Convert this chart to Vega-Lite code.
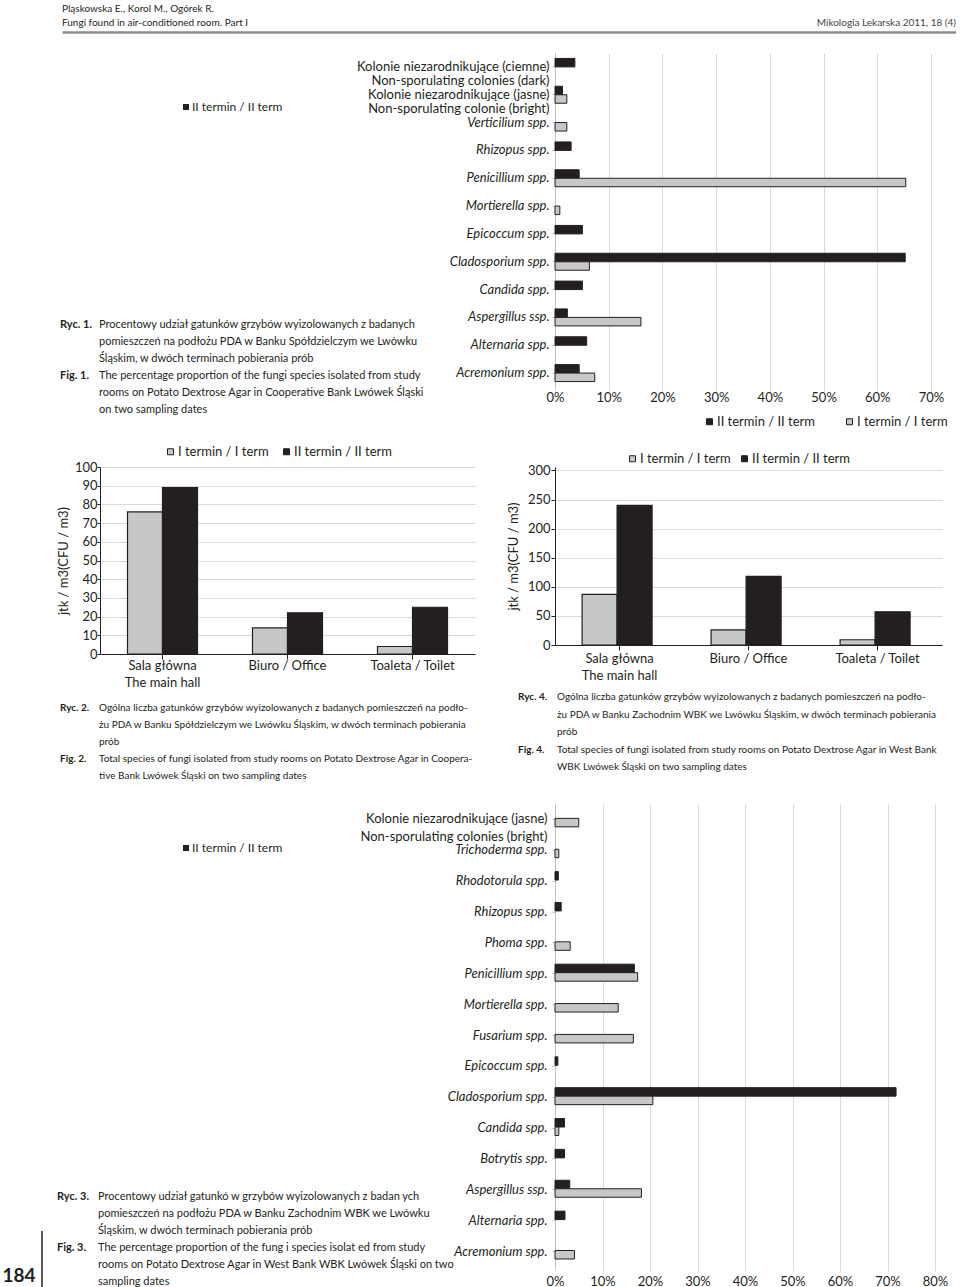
{
 "$schema": "https://vega.github.io/schema/vega-lite/v6.json",
 "padding": 0,
 "background": "white",
 "columns": 4,
 "spacing": 0,
 "bounds": "flush",
 "align": {"row": "each", "column": "none"},
 "resolve": {"scale": {"color": "independent"}, "legend": {"color": "independent"}},
 "config": {
  "view": {"stroke": null},
  "font": "Lato",
  "axis": {"labelColor": "#231f20", "titleColor": "#231f20", "labelFontSize": 13, "titleFontSize": 13, "titleFontWeight": "normal"},
  "legend": {"labelColor": "#231f20", "labelFontSize": 13},
  "text": {"color": "#231f20"}
 },
 "concat": [
  {
   "width": 100, "height": 29,
   "layer": [
    {
     "data": {"values": [
      {"side": "left", "line": "1", "text": "Pląskowska E., Korol M., Ogórek R."},
      {"side": "left", "line": "2", "text": "Fungi found in air-conditioned room. Part I"}
     ]},
     "mark": {"type": "text", "align": "left", "baseline": "middle", "fontSize": 10},
     "encoding": {
      "x": {"field": "side", "type": "nominal", "scale": {"type": "point", "padding": 0, "domain": ["left", "right"], "range": [62, 956]}, "axis": {"orient": "bottom", "title": null, "labels": false, "ticks": false, "grid": false, "domain": true, "domainColor": "#8c8c8c", "domainWidth": 2.5}},
      "y": {"field": "line", "type": "ordinal", "scale": {"type": "point", "padding": 0, "domain": ["1", "2"], "range": [6, 20]}, "axis": null},
      "text": {"field": "text"}
     }
    },
    {
     "data": {"values": [
      {"side": "right", "line": "2", "text": "Mikologia Lekarska 2011, 18 (4)"}
     ]},
     "mark": {"type": "text", "align": "right", "baseline": "middle", "fontSize": 10, "color": "#444444"},
     "encoding": {
      "x": {"field": "side", "type": "nominal", "scale": {"type": "point", "padding": 0, "domain": ["left", "right"], "range": [62, 956]}},
      "y": {"field": "line", "type": "ordinal", "scale": {"type": "point", "padding": 0, "domain": ["1", "2"], "range": [6, 20]}, "axis": null},
      "text": {"field": "text"}
     }
    }
   ]
  },
  {"width": 1, "height": 50, "data": {"values": [{"a": 1}]}, "mark": {"type": "point", "opacity": 0}},
  {"width": 1, "height": 1, "data": {"values": [{"a": 1}]}, "mark": {"type": "point", "opacity": 0}},
  {"width": 1, "height": 1, "data": {"values": [{"a": 1}]}, "mark": {"type": "point", "opacity": 0}},

  {
   "width": 100, "height": 414,
   "layer": [
    {
     "data": {"values": [{"part": "symbol", "row": "legend"}]},
     "mark": {"type": "point", "shape": "square", "filled": true, "size": 36, "color": "#231f20", "opacity": 1},
     "encoding": {
      "x": {"field": "part", "type": "nominal", "scale": {"type": "point", "padding": 0, "domain": ["symbol", "label"], "range": [186, 192]}, "axis": null},
      "y": {"field": "row", "type": "nominal", "scale": {"type": "point", "padding": 0, "domain": ["legend", "pad"], "range": [54, 70]}, "axis": null}
     }
    },
    {
     "data": {"values": [{"part": "label", "row": "legend", "text": "II termin / II term"}]},
     "mark": {"type": "text", "align": "left", "baseline": "middle", "fontSize": 12},
     "encoding": {
      "x": {"field": "part", "type": "nominal", "scale": {"type": "point", "padding": 0, "domain": ["symbol", "label"], "range": [186, 192]}, "axis": null},
      "y": {"field": "row", "type": "nominal", "scale": {"type": "point", "padding": 0, "domain": ["legend", "pad"], "range": [54, 70]}, "axis": null},
      "text": {"field": "text"}
     }
    },
    {
     "data": {"values": [
      {"line": 1, "part": "label", "text": "Ryc. 1."},
      {"line": 4, "part": "label", "text": "Fig. 1."}
     ]},
     "mark": {"type": "text", "align": "left", "baseline": "middle", "fontWeight": "bold", "fontSize": 11},
     "encoding": {
      "x": {"field": "part", "type": "nominal", "scale": {"type": "point", "padding": 0, "domain": ["label", "body"], "range": [60, 99]}, "axis": null},
      "y": {"field": "line", "type": "ordinal", "scale": {"type": "point", "padding": 0, "domain": [1, 2, 3, 4, 5, 6], "range": [272, 357]}, "axis": null},
      "text": {"field": "text"}
     }
    },
    {
     "data": {"values": [
      {"line": 1, "part": "body", "text": "Procentowy udział gatunków grzybów wyizolowanych z badanych"},
      {"line": 2, "part": "body", "text": "pomieszczeń na podłożu PDA w Banku Spółdzielczym we Lwówku"},
      {"line": 3, "part": "body", "text": "Śląskim, w dwóch terminach pobierania prób"},
      {"line": 4, "part": "body", "text": "The percentage proportion of the fungi species isolated from study"},
      {"line": 5, "part": "body", "text": "rooms on Potato Dextrose Agar in Cooperative Bank Lwówek Śląski"},
      {"line": 6, "part": "body", "text": "on two sampling dates"}
     ]},
     "mark": {"type": "text", "align": "left", "baseline": "middle", "fontSize": 11},
     "encoding": {
      "x": {"field": "part", "type": "nominal", "scale": {"type": "point", "padding": 0, "domain": ["label", "body"], "range": [60, 99]}, "axis": null},
      "y": {"field": "line", "type": "ordinal", "scale": {"type": "point", "padding": 0, "domain": [1, 2, 3, 4, 5, 6], "range": [272, 357]}, "axis": null},
      "text": {"field": "text"}
     }
    }
   ],
   "resolve": {"scale": {"x": "independent", "y": "independent"}}
  },
  {"width": 1, "height": 1, "data": {"values": [{"a": 1}]}, "mark": {"type": "point", "opacity": 0}},
  {"width": 1, "height": 1, "data": {"values": [{"a": 1}]}, "mark": {"type": "point", "opacity": 0}},
  {
   "width": 376, "height": 334,
   "data": {"values": [
    {"species": "Kolonie niezarodnikujące (ciemne)|Non-sporulating colonies (dark)", "term": "II termin / II term", "pct": 3.7},
    {"species": "Kolonie niezarodnikujące (jasne)|Non-sporulating colonie (bright)", "term": "II termin / II term", "pct": 1.4},
    {"species": "Kolonie niezarodnikujące (jasne)|Non-sporulating colonie (bright)", "term": "I termin / I term", "pct": 2.2},
    {"species": "Verticilium spp.", "term": "I termin / I term", "pct": 2.2},
    {"species": "Rhizopus spp.", "term": "II termin / II term", "pct": 3.0},
    {"species": "Penicillium spp.", "term": "II termin / II term", "pct": 4.5},
    {"species": "Penicillium spp.", "term": "I termin / I term", "pct": 65.3},
    {"species": "Mortierella spp.", "term": "I termin / I term", "pct": 0.9},
    {"species": "Epicoccum spp.", "term": "II termin / II term", "pct": 5.1},
    {"species": "Cladosporium spp.", "term": "II termin / II term", "pct": 65.2},
    {"species": "Cladosporium spp.", "term": "I termin / I term", "pct": 6.4},
    {"species": "Candida spp.", "term": "II termin / II term", "pct": 5.1},
    {"species": "Aspergillus ssp.", "term": "II termin / II term", "pct": 2.3},
    {"species": "Aspergillus ssp.", "term": "I termin / I term", "pct": 16.0},
    {"species": "Alternaria spp.", "term": "II termin / II term", "pct": 5.9},
    {"species": "Acremonium spp.", "term": "II termin / II term", "pct": 4.5},
    {"species": "Acremonium spp.", "term": "I termin / I term", "pct": 7.4}
   ]},
   "mark": {"type": "bar", "stroke": "#231f20", "strokeWidth": 1},
   "encoding": {
    "y": {"field": "species", "type": "nominal",
      "sort": ["Kolonie niezarodnikujące (ciemne)|Non-sporulating colonies (dark)", "Kolonie niezarodnikujące (jasne)|Non-sporulating colonie (bright)", "Verticilium spp.", "Rhizopus spp.", "Penicillium spp.", "Mortierella spp.", "Epicoccum spp.", "Cladosporium spp.", "Candida spp.", "Aspergillus ssp.", "Alternaria spp.", "Acremonium spp."],
      "scale": {"paddingInner": 0.39, "paddingOuter": 0.195},
      "axis": {"title": null, "labelExpr": "split(datum.value, '|')",
        "labelFontStyle": {"condition": {"test": "indexof(datum.value, '|') >= 0", "value": "normal"}, "value": "italic"},
        "labelFontSize": 13, "labelLineHeight": 14.5, "labelPadding": 3, "labelLimit": 400, "labelOverlap": false,
        "domain": true, "domainColor": "#bfbfbf", "ticks": true, "tickColor": "#bfbfbf", "tickSize": 3, "grid": false}},
    "yOffset": {"field": "term", "type": "nominal", "sort": ["II termin / II term", "I termin / I term"]},
    "x": {"field": "pct", "type": "quantitative", "scale": {"domain": [0, 70], "nice": false},
      "axis": {"title": null, "values": [0, 10, 20, 30, 40, 50, 60, 70], "labelExpr": "datum.value + '%'", "grid": true, "gridColor": "#d9d9d9", "domain": false, "ticks": true, "tickColor": "#d9d9d9", "tickSize": 4, "labelPadding": 0, "labelFlush": false}},
    "color": {"field": "term", "type": "nominal", "scale": {"domain": ["II termin / II term", "I termin / I term"], "range": ["#231f20", "#c6c7c9"]},
      "legend": {"title": null, "orient": "none", "legendX": 148, "legendY": 362, "direction": "horizontal", "symbolType": "square", "symbolSize": 36, "symbolStrokeColor": "#231f20", "symbolStrokeWidth": 1, "columnPadding": 28, "labelOffset": 1}}
   }
  },

  {"width": 100, "height": 231, "data": {"values": [{"a": 1}]}, "mark": {"type": "point", "opacity": 0}},
  {
   "width": 375, "height": 187,
   "data": {"values": [
    {"room": "Sala główna|The main hall", "term": "I termin / I term", "cfu": 76},
    {"room": "Sala główna|The main hall", "term": "II termin / II term", "cfu": 89},
    {"room": "Biuro / Office", "term": "I termin / I term", "cfu": 14},
    {"room": "Biuro / Office", "term": "II termin / II term", "cfu": 22},
    {"room": "Toaleta / Toilet", "term": "I termin / I term", "cfu": 4},
    {"room": "Toaleta / Toilet", "term": "II termin / II term", "cfu": 25}
   ]},
   "mark": {"type": "bar", "stroke": "#231f20", "strokeWidth": 1.2},
   "encoding": {
    "x": {"field": "room", "type": "nominal", "sort": ["Sala główna|The main hall", "Biuro / Office", "Toaleta / Toilet"], "scale": {"paddingInner": 0.44, "paddingOuter": 0.22},
      "axis": {"title": null, "labelAngle": 0, "labelExpr": "split(datum.value, '|')", "labelBaseline": "top", "labelLineHeight": 17, "domain": true, "domainColor": "#231f20", "ticks": true, "tickColor": "#231f20", "tickSize": 5, "labelPadding": 0, "labelLimit": 300}},
    "xOffset": {"field": "term", "type": "nominal", "sort": ["I termin / I term", "II termin / II term"]},
    "y": {"field": "cfu", "type": "quantitative", "scale": {"domain": [0, 100], "nice": false},
      "axis": {"title": "jtk / m3(CFU / m3)", "values": [0, 10, 20, 30, 40, 50, 60, 70, 80, 90, 100], "grid": true, "gridColor": "#d9d9d9", "domain": true, "domainColor": "#231f20", "ticks": true, "tickColor": "#231f20", "tickSize": 3, "labelPadding": 0, "titlePadding": 4}},
    "color": {"field": "term", "type": "nominal", "scale": {"domain": ["I termin / I term", "II termin / II term"], "range": ["#c6c7c9", "#231f20"]},
      "legend": {"title": null, "orient": "none", "legendX": 64, "legendY": -22, "direction": "horizontal", "symbolType": "square", "symbolSize": 36, "symbolStrokeColor": "#231f20", "symbolStrokeWidth": 1, "columnPadding": 11, "labelOffset": 1}}
   }
  },
  {"width": 80, "height": 1, "data": {"values": [{"a": 1}]}, "mark": {"type": "point", "opacity": 0}},
  {
   "width": 387, "height": 178,
   "data": {"values": [
    {"room": "Sala główna|The main hall", "term": "I termin / I term", "cfu": 87},
    {"room": "Sala główna|The main hall", "term": "II termin / II term", "cfu": 240},
    {"room": "Biuro / Office", "term": "I termin / I term", "cfu": 26},
    {"room": "Biuro / Office", "term": "II termin / II term", "cfu": 118},
    {"room": "Toaleta / Toilet", "term": "I termin / I term", "cfu": 9},
    {"room": "Toaleta / Toilet", "term": "II termin / II term", "cfu": 57}
   ]},
   "mark": {"type": "bar", "stroke": "#231f20", "strokeWidth": 1.2},
   "encoding": {
    "x": {"field": "room", "type": "nominal", "sort": ["Sala główna|The main hall", "Biuro / Office", "Toaleta / Toilet"], "scale": {"paddingInner": 0.42, "paddingOuter": 0.21},
      "axis": {"title": null, "labelAngle": 0, "labelExpr": "split(datum.value, '|')", "labelBaseline": "top", "labelLineHeight": 17, "domain": true, "domainColor": "#231f20", "ticks": true, "tickColor": "#231f20", "tickSize": 5, "labelPadding": 2, "labelLimit": 300}},
    "xOffset": {"field": "term", "type": "nominal", "sort": ["I termin / I term", "II termin / II term"]},
    "y": {"field": "cfu", "type": "quantitative", "scale": {"domain": [0, 306], "nice": false},
      "axis": {"title": "jtk / m3(CFU / m3)", "values": [0, 50, 100, 150, 200, 250, 300], "grid": true, "gridColor": "#d9d9d9", "domain": true, "domainColor": "#231f20", "ticks": true, "tickColor": "#231f20", "tickSize": 4, "labelPadding": 1, "titlePadding": 7}},
    "color": {"field": "term", "type": "nominal", "scale": {"domain": ["I termin / I term", "II termin / II term"], "range": ["#c6c7c9", "#231f20"]},
      "legend": {"title": null, "orient": "none", "legendX": 71, "legendY": -15, "direction": "horizontal", "symbolType": "square", "symbolSize": 36, "symbolStrokeColor": "#231f20", "symbolStrokeWidth": 1, "columnPadding": 7, "labelOffset": 1}}
   }
  },

  {
   "width": 100, "height": 106,
   "layer": [
    {
     "data": {"values": [
      {"line": 1, "part": "label", "text": "Ryc. 2."},
      {"line": 4, "part": "label", "text": "Fig. 2."}
     ]},
     "mark": {"type": "text", "align": "left", "baseline": "middle", "fontWeight": "bold", "fontSize": 10},
     "encoding": {
      "x": {"field": "part", "type": "nominal", "scale": {"type": "point", "padding": 0, "domain": ["label", "body"], "range": [60, 99]}, "axis": null},
      "y": {"field": "line", "type": "ordinal", "scale": {"type": "point", "padding": 0, "domain": [1, 2, 3, 4, 5], "range": [10, 78]}, "axis": null},
      "text": {"field": "text"}
     }
    },
    {
     "data": {"values": [
      {"line": 1, "part": "body", "text": "Ogólna liczba gatunków grzybów wyizolowanych z badanych pomieszczeń na podło-"},
      {"line": 2, "part": "body", "text": "żu PDA w Banku Spółdzielczym we Lwówku Śląskim, w dwóch terminach pobierania"},
      {"line": 3, "part": "body", "text": "prób"},
      {"line": 4, "part": "body", "text": "Total species of fungi isolated from study rooms on Potato Dextrose Agar in Coopera-"},
      {"line": 5, "part": "body", "text": "tive Bank Lwówek Śląski on two sampling dates"}
     ]},
     "mark": {"type": "text", "align": "left", "baseline": "middle", "fontSize": 10},
     "encoding": {
      "x": {"field": "part", "type": "nominal", "scale": {"type": "point", "padding": 0, "domain": ["label", "body"], "range": [60, 99]}, "axis": null},
      "y": {"field": "line", "type": "ordinal", "scale": {"type": "point", "padding": 0, "domain": [1, 2, 3, 4, 5], "range": [10, 78]}, "axis": null},
      "text": {"field": "text"}
     }
    }
   ]
  },
  {
   "width": 20, "height": 106,
   "layer": [
    {
     "data": {"values": [
      {"line": 1, "part": "label", "text": "Ryc. 4."},
      {"line": 4, "part": "label", "text": "Fig. 4."}
     ]},
     "mark": {"type": "text", "align": "left", "baseline": "middle", "fontWeight": "bold", "fontSize": 10},
     "encoding": {
      "x": {"field": "part", "type": "nominal", "scale": {"type": "point", "padding": 0, "domain": ["label", "body"], "range": [418, 457]}, "axis": null},
      "y": {"field": "line", "type": "ordinal", "scale": {"type": "point", "padding": 0, "domain": [1, 2, 3, 4, 5], "range": [-1, 69]}, "axis": null},
      "text": {"field": "text"}
     }
    },
    {
     "data": {"values": [
      {"line": 1, "part": "body", "text": "Ogólna liczba gatunków grzybów wyizolowanych z badanych pomieszczeń na podło-"},
      {"line": 2, "part": "body", "text": "żu PDA w Banku Zachodnim WBK we Lwówku Śląskim, w dwóch terminach pobierania"},
      {"line": 3, "part": "body", "text": "prób"},
      {"line": 4, "part": "body", "text": "Total species of fungi isolated from study rooms on Potato Dextrose Agar in West Bank"},
      {"line": 5, "part": "body", "text": "WBK Lwówek Śląski on two sampling dates"}
     ]},
     "mark": {"type": "text", "align": "left", "baseline": "middle", "fontSize": 10},
     "encoding": {
      "x": {"field": "part", "type": "nominal", "scale": {"type": "point", "padding": 0, "domain": ["label", "body"], "range": [418, 457]}, "axis": null},
      "y": {"field": "line", "type": "ordinal", "scale": {"type": "point", "padding": 0, "domain": [1, 2, 3, 4, 5], "range": [-1, 69]}, "axis": null},
      "text": {"field": "text"}
     }
    }
   ]
  },
  {"width": 1, "height": 1, "data": {"values": [{"a": 1}]}, "mark": {"type": "point", "opacity": 0}},
  {"width": 1, "height": 1, "data": {"values": [{"a": 1}]}, "mark": {"type": "point", "opacity": 0}},

  {
   "width": 100, "height": 486,
   "layer": [
    {
     "data": {"values": [{"part": "symbol", "row": "legend"}]},
     "mark": {"type": "point", "shape": "square", "filled": true, "size": 36, "color": "#231f20", "opacity": 1},
     "encoding": {
      "x": {"field": "part", "type": "nominal", "scale": {"type": "point", "padding": 0, "domain": ["symbol", "label"], "range": [186, 192]}, "axis": null},
      "y": {"field": "row", "type": "nominal", "scale": {"type": "point", "padding": 0, "domain": ["legend", "pad"], "range": [44, 60]}, "axis": null}
     }
    },
    {
     "data": {"values": [{"part": "label", "row": "legend", "text": "II termin / II term"}]},
     "mark": {"type": "text", "align": "left", "baseline": "middle", "fontSize": 12},
     "encoding": {
      "x": {"field": "part", "type": "nominal", "scale": {"type": "point", "padding": 0, "domain": ["symbol", "label"], "range": [186, 192]}, "axis": null},
      "y": {"field": "row", "type": "nominal", "scale": {"type": "point", "padding": 0, "domain": ["legend", "pad"], "range": [44, 60]}, "axis": null},
      "text": {"field": "text"}
     }
    },
    {
     "data": {"values": [
      {"line": 1, "part": "label", "text": "Ryc. 3."},
      {"line": 4, "part": "label", "text": "Fig. 3."}
     ]},
     "mark": {"type": "text", "align": "left", "baseline": "middle", "fontWeight": "bold", "fontSize": 11},
     "encoding": {
      "x": {"field": "part", "type": "nominal", "scale": {"type": "point", "padding": 0, "domain": ["label", "body"], "range": [57, 98]}, "axis": null},
      "y": {"field": "line", "type": "ordinal", "scale": {"type": "point", "padding": 0, "domain": [1, 2, 3, 4, 5, 6], "range": [393, 478]}, "axis": null},
      "text": {"field": "text"}
     }
    },
    {
     "data": {"values": [
      {"line": 1, "part": "body", "text": "Procentowy udział gatunkó w grzybów wyizolowanych z badan ych"},
      {"line": 2, "part": "body", "text": "pomieszczeń na podłożu PDA w Banku Zachodnim  WBK we Lwówku"},
      {"line": 3, "part": "body", "text": "Śląskim, w dwóch terminach pobierania prób"},
      {"line": 4, "part": "body", "text": "The percentage proportion of the fung i species isolat ed from study"},
      {"line": 5, "part": "body", "text": "rooms on Potato Dextrose Agar in West Bank WBK Lwówek Śląski on two"},
      {"line": 6, "part": "body", "text": "sampling dates"}
     ]},
     "mark": {"type": "text", "align": "left", "baseline": "middle", "fontSize": 11},
     "encoding": {
      "x": {"field": "part", "type": "nominal", "scale": {"type": "point", "padding": 0, "domain": ["label", "body"], "range": [57, 98]}, "axis": null},
      "y": {"field": "line", "type": "ordinal", "scale": {"type": "point", "padding": 0, "domain": [1, 2, 3, 4, 5, 6], "range": [393, 478]}, "axis": null},
      "text": {"field": "text"}
     }
    },
    {
     "data": {"values": [{"slot": "number", "row": "page", "text": "184"}]},
     "mark": {"type": "text", "align": "center", "baseline": "middle", "fontWeight": "bold", "fontSize": 19},
     "encoding": {
      "x": {"field": "slot", "type": "nominal", "scale": {"type": "point", "padding": 0, "domain": ["number", "rule"], "range": [19, 42]}, "axis": null},
      "y": {"field": "row", "type": "nominal", "scale": {"type": "point", "padding": 0, "domain": ["page", "pad"], "range": [472, 490]}, "axis": null},
      "text": {"field": "text"}
     }
    },
    {
     "data": {"values": [{"slot": "rule", "end": "top"}, {"slot": "rule", "end": "bottom"}]},
     "mark": {"type": "line", "color": "#231f20", "strokeWidth": 1.5},
     "encoding": {
      "x": {"field": "slot", "type": "nominal", "scale": {"type": "point", "padding": 0, "domain": ["number", "rule"], "range": [19, 42]}, "axis": null},
      "y": {"field": "end", "type": "nominal", "scale": {"type": "point", "padding": 0, "domain": ["top", "bottom"], "range": [427, 486]}, "axis": null}
     }
    }
   ],
   "resolve": {"scale": {"x": "independent", "y": "independent"}}
  },
  {"width": 1, "height": 1, "data": {"values": [{"a": 1}]}, "mark": {"type": "point", "opacity": 0}},
  {"width": 1, "height": 1, "data": {"values": [{"a": 1}]}, "mark": {"type": "point", "opacity": 0}},
  {
   "width": 380, "height": 463,
   "data": {"values": [
    {"species": "Kolonie niezarodnikujące (jasne)|Non-sporulating colonies (bright)", "term": "I termin / I term", "pct": 5.0},
    {"species": "Trichoderma spp.", "term": "I termin / I term", "pct": 0.8},
    {"species": "Rhodotorula spp.", "term": "II termin / II term", "pct": 0.7},
    {"species": "Rhizopus spp.", "term": "II termin / II term", "pct": 1.3},
    {"species": "Phoma spp.", "term": "I termin / I term", "pct": 3.2},
    {"species": "Penicillium spp.", "term": "II termin / II term", "pct": 16.7},
    {"species": "Penicillium spp.", "term": "I termin / I term", "pct": 17.4},
    {"species": "Mortierella spp.", "term": "I termin / I term", "pct": 13.3},
    {"species": "Fusarium spp.", "term": "I termin / I term", "pct": 16.5},
    {"species": "Epicoccum spp.", "term": "II termin / II term", "pct": 0.6},
    {"species": "Cladosporium spp.", "term": "II termin / II term", "pct": 71.8},
    {"species": "Cladosporium spp.", "term": "I termin / I term", "pct": 20.6},
    {"species": "Candida spp.", "term": "II termin / II term", "pct": 2.0},
    {"species": "Candida spp.", "term": "I termin / I term", "pct": 0.8},
    {"species": "Botrytis spp.", "term": "II termin / II term", "pct": 2.0},
    {"species": "Aspergillus ssp.", "term": "II termin / II term", "pct": 3.1},
    {"species": "Aspergillus ssp.", "term": "I termin / I term", "pct": 18.2},
    {"species": "Alternaria spp.", "term": "II termin / II term", "pct": 2.1},
    {"species": "Acremonium spp.", "term": "I termin / I term", "pct": 4.1}
   ]},
   "mark": {"type": "bar", "stroke": "#231f20", "strokeWidth": 1},
   "encoding": {
    "y": {"field": "species", "type": "nominal",
      "sort": ["Kolonie niezarodnikujące (jasne)|Non-sporulating colonies (bright)", "Trichoderma spp.", "Rhodotorula spp.", "Rhizopus spp.", "Phoma spp.", "Penicillium spp.", "Mortierella spp.", "Fusarium spp.", "Epicoccum spp.", "Cladosporium spp.", "Candida spp.", "Botrytis spp.", "Aspergillus ssp.", "Alternaria spp.", "Acremonium spp."],
      "scale": {"paddingInner": 0.38, "paddingOuter": 0.19},
      "axis": {"title": null, "labelExpr": "split(datum.value, '|')",
        "labelFontStyle": {"condition": {"test": "indexof(datum.value, '|') >= 0", "value": "normal"}, "value": "italic"},
        "labelFontSize": 13, "labelLineHeight": 18, "labelPadding": 5, "labelLimit": 400, "labelOverlap": false,
        "domain": true, "domainColor": "#bfbfbf", "ticks": true, "tickColor": "#bfbfbf", "tickSize": 3, "grid": false}},
    "yOffset": {"field": "term", "type": "nominal", "sort": ["II termin / II term", "I termin / I term"]},
    "x": {"field": "pct", "type": "quantitative", "scale": {"domain": [0, 80], "nice": false},
      "axis": {"title": null, "values": [0, 10, 20, 30, 40, 50, 60, 70, 80], "labelExpr": "datum.value + '%'", "grid": true, "gridColor": "#d9d9d9", "domain": false, "ticks": true, "tickColor": "#d9d9d9", "tickSize": 4, "labelPadding": 4, "labelFlush": false}},
    "color": {"field": "term", "type": "nominal", "scale": {"domain": ["II termin / II term", "I termin / I term"], "range": ["#231f20", "#c6c7c9"]}, "legend": null}
   }
  }
 ]
}
